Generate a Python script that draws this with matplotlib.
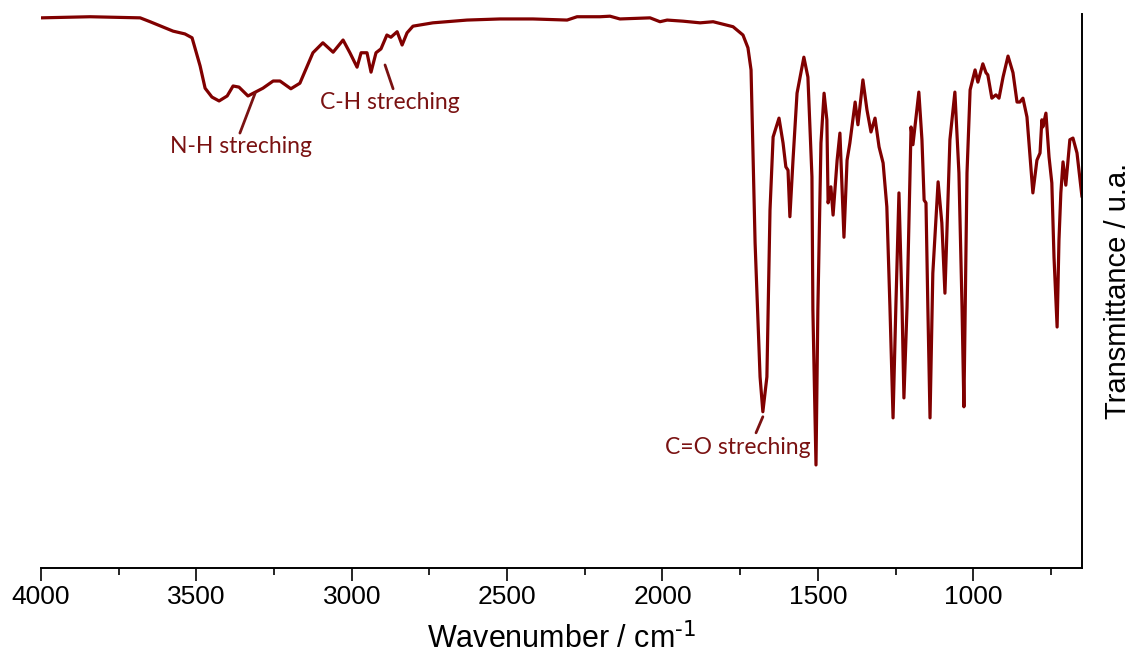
import matplotlib
matplotlib.use("Agg")
import matplotlib.pyplot as plt
from matplotlib.ticker import MultipleLocator

plt.rcParams["font.family"] = ["Liberation Sans", "DejaVu Sans"]

# IR spectrum (wavenumber in cm-1, transmittance in a.u.)
wavenumber = [
    4000, 3842, 3681, 3649, 3575, 3537, 3514, 3488, 3472, 3450,
    3427, 3401, 3382, 3363, 3334, 3286, 3253, 3231, 3196, 3167,
    3125, 3093, 3060, 3028, 3006, 2983, 2970, 2951, 2938, 2922,
    2906, 2887, 2874, 2854, 2838, 2822, 2803, 2739, 2629, 2523,
    2417, 2307, 2275, 2201, 2169, 2137, 2040, 2008, 1985, 1934,
    1879, 1837, 1773, 1741, 1725, 1715, 1702, 1686, 1677, 1664,
    1654, 1644, 1625, 1612, 1603, 1596, 1590, 1580, 1567, 1545,
    1532, 1519, 1516, 1506, 1500, 1490, 1480, 1471, 1467, 1458,
    1451, 1438, 1429, 1416, 1406, 1397, 1380, 1371, 1355, 1342,
    1329, 1316, 1303, 1290, 1278, 1268, 1258, 1249, 1239, 1229,
    1223, 1213, 1200, 1194, 1175, 1165, 1158, 1152, 1146, 1139,
    1130, 1113, 1101, 1091, 1075, 1059, 1046, 1036, 1030, 1020,
    1010, 994, 985, 969, 959, 953, 940, 927, 917, 904,
    888, 872, 859, 850, 840, 827, 808, 795, 785, 779,
    776, 766, 756, 747, 740, 730, 724, 718, 711, 702,
    689, 679, 666, 650,
]
transmittance = [
    99.3, 99.5, 99.3, 98.6, 96.9, 96.4, 95.7, 90.6, 86.6, 85.0,
    84.3, 85.2, 87.0, 86.8, 85.2, 86.6, 87.9, 87.9, 86.5, 87.5,
    93.0, 94.8, 93.1, 95.3, 93.0, 90.4, 93.0, 93.0, 89.5, 93.0,
    93.7, 96.2, 95.8, 96.8, 94.4, 96.6, 97.8, 98.4, 98.9, 99.1,
    99.1, 98.9, 99.5, 99.5, 99.6, 99.1, 99.3, 98.6, 98.9, 98.7,
    98.4, 98.6, 97.7, 96.2, 93.9, 89.9, 58.7, 34.5, 28.2, 34.5,
    64.6, 77.8, 81.2, 76.7, 72.4, 71.8, 63.4, 73.6, 85.7, 92.2,
    88.6, 70.6, 46.6, 18.6, 46.6, 76.7, 85.7, 80.9, 65.9, 68.8,
    63.7, 73.6, 78.5, 59.7, 73.6, 76.7, 84.1, 80.0, 88.1, 82.7,
    78.7, 81.2, 76.0, 73.1, 65.2, 47.1, 27.1, 47.1, 67.7, 47.1,
    30.7, 47.1, 79.6, 76.4, 85.9, 77.3, 66.4, 65.9, 47.1, 27.1,
    53.2, 69.7, 62.3, 49.6, 77.3, 85.9, 71.3, 47.1, 29.1, 71.3,
    86.3, 89.9, 87.7, 91.0, 89.4, 89.0, 84.8, 85.4, 84.8, 88.6,
    92.4, 89.4, 84.1, 84.1, 84.8, 81.4, 67.7, 73.6, 74.9, 80.9,
    79.6, 82.1, 74.2, 69.5, 56.1, 43.5, 59.2, 67.7, 73.3, 69.1,
    77.3, 77.6, 74.9, 67.0,
]

# band labels: text, text centre, leader line end on the curve, leader line start
band_labels = ["N-H streching", "C-H streching", "C=O streching"]
label_pos = [(3356, 76.0), (2877, 84.1), (1757, 21.8)]
leader_tip = [(3311, 85.7), (2893, 90.8), (1677, 27.3)]
leader_base = [(3360, 78.5), (2867, 86.5), (1699, 24.4)]

line_color = "#800000"
text_color = "#7a1212"

fig = plt.figure(figsize=(11.37, 6.59), dpi=100)
ax = fig.add_axes([0.0361, 0.1381, 0.9155, 0.8407])

ax.plot(wavenumber, transmittance, color=line_color, lw=2.3,
        solid_joinstyle="round", solid_capstyle="round")

for text, pos, tip, base in zip(band_labels, label_pos, leader_tip, leader_base):
    ax.annotate("", xy=tip, xytext=base,
                arrowprops=dict(arrowstyle="-", color=text_color, lw=2.0,
                                shrinkA=0, shrinkB=0))
    ax.text(pos[0], pos[1], text, color=text_color, fontsize=16.5,
            family=["Lato", "DejaVu Sans"], ha="center", va="center")

ax.set_xlim(4000, 650)
ax.set_ylim(0, 100)
ax.xaxis.set_major_locator(MultipleLocator(500))
ax.xaxis.set_minor_locator(MultipleLocator(250))

for side in ("top", "left"):
    ax.spines[side].set_visible(False)
for side in ("bottom", "right"):
    ax.spines[side].set_linewidth(1.4)

ax.tick_params(axis="x", which="major", direction="out", length=9, width=1.2,
               labelsize=19, pad=3)
ax.tick_params(axis="x", which="minor", direction="out", length=5, width=1.2)
ax.tick_params(axis="y", which="both", left=False, right=False,
               labelleft=False, labelright=False)

ax.set_xlabel("Wavenumber / cm$^{\\text{-1}}$", fontsize=22, labelpad=10)
ax.yaxis.set_label_position("right")
ax.set_ylabel("Transmittance / u.a.", fontsize=21, labelpad=16)

fig.savefig("out.png", dpi=100)
